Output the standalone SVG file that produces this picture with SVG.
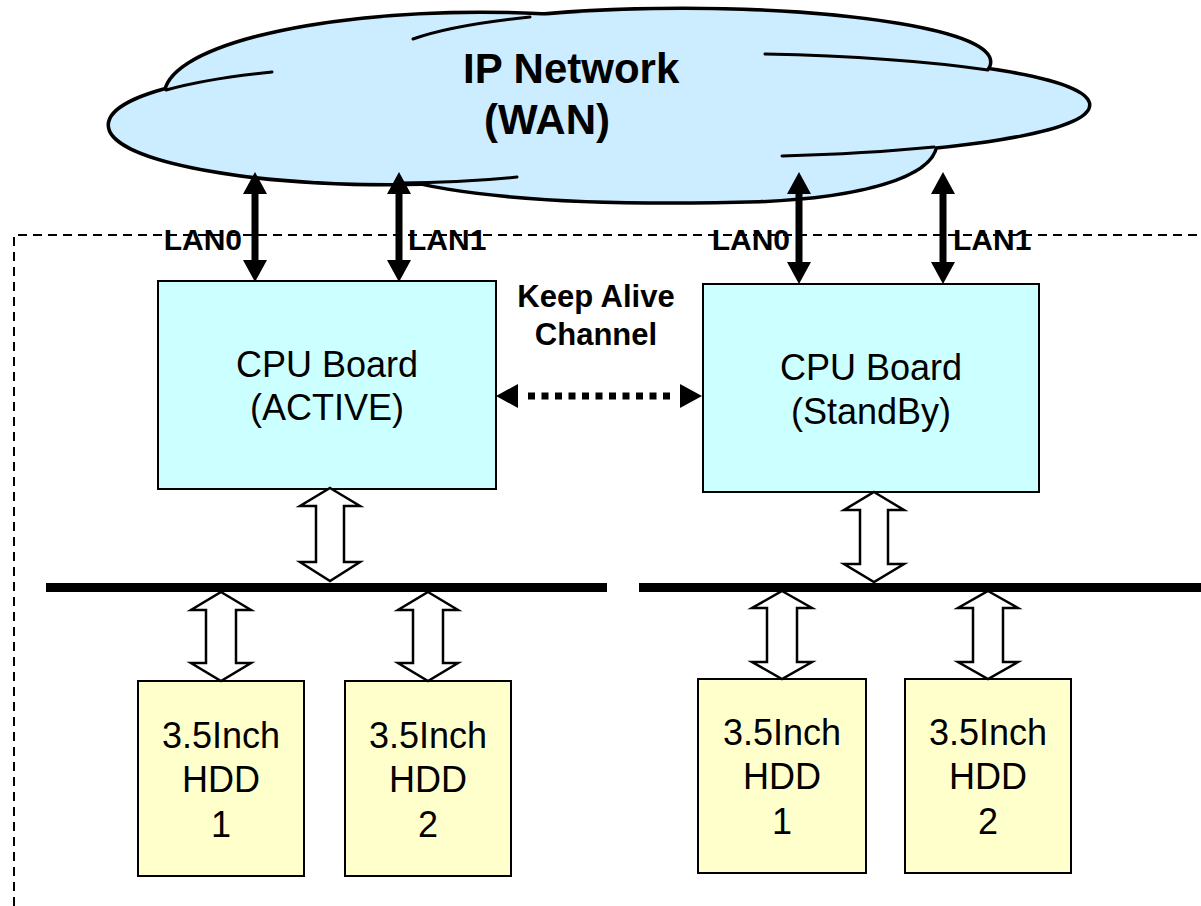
<svg xmlns="http://www.w3.org/2000/svg" width="1201" height="906" viewBox="0 0 1201 906">
<style>
.cs{fill:none;stroke:#000;stroke-width:7}
.cf{fill:#CCECFF;stroke:none}
.ca{fill:none;stroke:#000;stroke-width:3;stroke-linecap:round}
.cpu{fill:#CCFFFF;stroke:#000;stroke-width:2}
.hdd{fill:#FFFFCC;stroke:#000;stroke-width:2}
.bar{fill:#000}
.blk{fill:#fff;stroke:#000;stroke-width:2.5;stroke-linejoin:miter}
.lan{stroke:#000;stroke-width:7;fill:none}
.ka{stroke:#000;stroke-width:7;fill:none;stroke-dasharray:7 6.5}
.t{font-family:"Liberation Sans",Arial,sans-serif;fill:#000}
.big{font-size:42px;font-weight:bold}
.lbl{font-size:30px;font-weight:bold}
.reg{font-size:36px;text-anchor:middle}
</style>
<defs>
<marker id="ah" viewBox="0 0 22 24" refX="0" refY="12" markerWidth="22" markerHeight="24" markerUnits="userSpaceOnUse" orient="auto-start-reverse">
<path d="M0,0 L22,12 L0,24 Z" fill="#000"/>
</marker>
<marker id="kah" viewBox="0 0 32 24" refX="0" refY="12" markerWidth="32" markerHeight="24" markerUnits="userSpaceOnUse" orient="auto-start-reverse">
<path d="M10,0 L32,12 L10,24 Z" fill="#000"/>
</marker>
</defs>
<rect width="1201" height="906" fill="#fff"/>

<g id="cloud">
<g>
<ellipse class="cs" cx="480" cy="95" rx="314" ry="81"/>
<ellipse class="cs" cx="390" cy="125" rx="280" ry="58"/>
<ellipse class="cs" cx="683" cy="62" rx="306" ry="52"/>
<ellipse class="cs" cx="700" cy="105" rx="388" ry="52"/>
<path class="cs" d="M395,176 C480,200 620,204 760,200 C860,196 930,176 935,146 L935,120 L395,120 Z"/>
</g>
<g>
<ellipse class="cf" cx="480" cy="95" rx="314" ry="81"/>
<ellipse class="cf" cx="390" cy="125" rx="280" ry="58"/>
<ellipse class="cf" cx="683" cy="62" rx="306" ry="52"/>
<ellipse class="cf" cx="700" cy="105" rx="388" ry="52"/>
<path class="cf" d="M395,176 C480,200 620,204 760,200 C860,196 930,176 935,146 L935,120 L395,120 Z"/>
</g>
<path class="ca" d="M166,90 A280,58 0 0 1 272,72"/>
<path class="ca" d="M413,39 A306,52 0 0 1 530,17"/>
<path class="ca" d="M765,54 A388,52 0 0 1 988,70"/>
<path class="ca" d="M782,156 A388,52 0 0 0 934,147"/>
<path class="ca" d="M400,183 A280,58 0 0 0 517,177"/>
<text class="t big" x="463" y="83">IP Network</text>
<text class="t big" x="484" y="134">(WAN)</text>
</g>

<path id="border" d="M14,906 V235 H1201" fill="none" stroke="#000" stroke-width="2" stroke-dasharray="9 6"/>

<g id="cpu-active">
<rect class="cpu" x="158" y="281" width="338" height="208"/>
<text class="t reg" x="327" y="377">CPU Board</text>
<text class="t reg" x="327" y="420">(ACTIVE)</text>
</g>
<g id="cpu-standby">
<rect class="cpu" x="703" y="284" width="336" height="208"/>
<text class="t reg" x="871" y="380">CPU Board</text>
<text class="t reg" x="871" y="424">(StandBy)</text>
</g>

<g id="bus-left"><rect class="bar" x="46" y="583" width="561" height="9"/></g>
<g id="bus-right"><rect class="bar" x="639" y="583" width="562" height="9"/></g>

<g id="hdd-a1">
<rect class="hdd" x="138" y="681" width="166" height="195"/>
<text class="t reg" x="221" y="748">3.5Inch</text>
<text class="t reg" x="221" y="792">HDD</text>
<text class="t reg" x="221" y="837">1</text>
</g>
<g id="hdd-a2">
<rect class="hdd" x="345" y="681" width="166" height="195"/>
<text class="t reg" x="428" y="748">3.5Inch</text>
<text class="t reg" x="428" y="792">HDD</text>
<text class="t reg" x="428" y="837">2</text>
</g>
<g id="hdd-s1">
<rect class="hdd" x="698" y="679" width="168" height="194"/>
<text class="t reg" x="782" y="745">3.5Inch</text>
<text class="t reg" x="782" y="789">HDD</text>
<text class="t reg" x="782" y="834">1</text>
</g>
<g id="hdd-s2">
<rect class="hdd" x="905" y="679" width="166" height="194"/>
<text class="t reg" x="988" y="745">3.5Inch</text>
<text class="t reg" x="988" y="789">HDD</text>
<text class="t reg" x="988" y="834">2</text>
</g>

<g id="connectors">
<line class="lan" x1="255" y1="194" x2="255" y2="260" marker-start="url(#ah)" marker-end="url(#ah)"/>
<line class="lan" x1="399" y1="194" x2="399" y2="260" marker-start="url(#ah)" marker-end="url(#ah)"/>
<line class="lan" x1="799" y1="194" x2="799" y2="262" marker-start="url(#ah)" marker-end="url(#ah)"/>
<line class="lan" x1="943" y1="194" x2="943" y2="262" marker-start="url(#ah)" marker-end="url(#ah)"/>
<line class="ka" x1="528" y1="396" x2="670" y2="396" marker-start="url(#kah)" marker-end="url(#kah)"/>
<path class="blk" d="M330,488 L360,506 L344,506 L344,562 L360,562 L330,581 L300,562 L316,562 L316,506 L300,506 Z"/>
<path class="blk" d="M874,492 L904,510 L888,510 L888,564 L904,564 L874,582 L844,564 L860,564 L860,510 L844,510 Z"/>
<path class="blk" d="M221,592 L251,610 L236,610 L236,663 L251,663 L221,681 L191,663 L206,663 L206,610 L191,610 Z"/>
<path class="blk" d="M428,592 L458,610 L443,610 L443,663 L458,663 L428,681 L398,663 L413,663 L413,610 L398,610 Z"/>
<path class="blk" d="M782,591 L812,608 L797,608 L797,662 L812,662 L782,679 L752,662 L767,662 L767,608 L752,608 Z"/>
<path class="blk" d="M988,591 L1018,608 L1003,608 L1003,662 L1018,662 L988,679 L958,662 L973,662 L973,608 L958,608 Z"/>
</g>

<g id="labels">
<text class="t lbl" x="242" y="250" text-anchor="end">LAN0</text>
<text class="t lbl" x="408" y="250">LAN1</text>
<text class="t lbl" x="790" y="250" text-anchor="end">LAN0</text>
<text class="t lbl" x="953" y="250">LAN1</text>
<text class="t" x="596" y="307" font-size="31" font-weight="bold" text-anchor="middle">Keep Alive</text>
<text class="t" x="596" y="345" font-size="31" font-weight="bold" text-anchor="middle">Channel</text>
</g>
</svg>
